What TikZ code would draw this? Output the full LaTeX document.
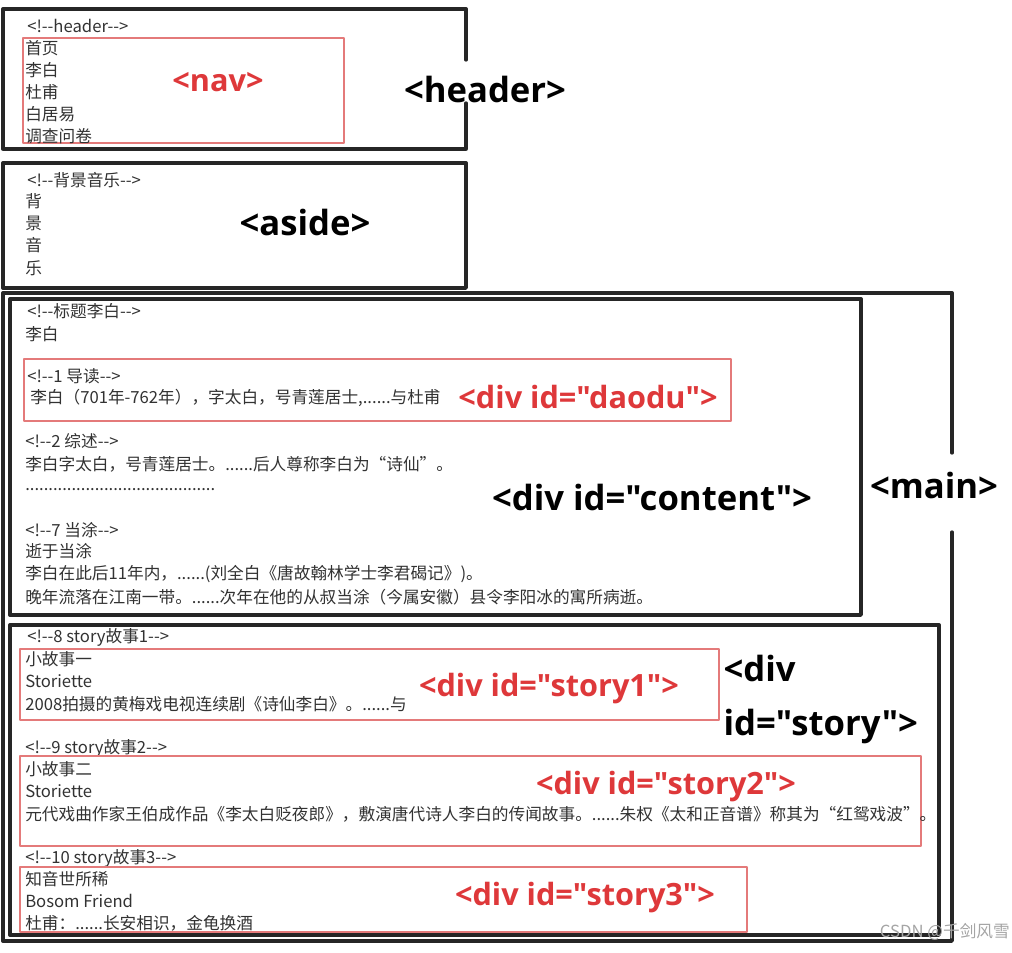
\documentclass[tikz,border=0pt]{standalone}
\usepackage{fontspec}
\setmainfont{Noto Sans CJK SC}
\newfontfamily\tagfont{Open Sans}
\usetikzlibrary{positioning}
\definecolor{tagred}{RGB}{222,56,58}
\definecolor{boxred}{RGB}{228,122,122}
\definecolor{txtgray}{RGB}{50,50,50}
\definecolor{markgray}{RGB}{165,165,165}

\begin{document}
\begin{tikzpicture}[x=0.75pt, y=-0.75pt, line join=round, line cap=round,
    blk/.style={draw=black!85, line width=2.5pt},
    redbox/.style={draw=boxred, line width=0.8pt},
    txt/.style={anchor=west, inner sep=0pt, text=txtgray, font=\fontsize{12.5}{15}\selectfont},
    tag/.style={font=\tagfont\bfseries\fontsize{26}{30}\selectfont, inner sep=1pt},
    redtag/.style={font=\tagfont\bfseries\fontsize{23}{27}\selectfont, text=tagred, inner sep=1pt}]
    \useasboundingbox (0,0) rectangle (1012,952);

    \draw[blk] (466,60) -- (466,9) -- (3,9) -- (3,149) -- (466,149) -- (466,103);
    \draw[redbox] (23,38) rectangle (344,143);
    \node[txt] (hdrnote) at (27,26) {<!-{}-header-{}->};
    \node[txt] (navhome) at (25,48) {首页};
    \node[txt] (navli) at (25,70) {李白};
    \node[txt] (navdu) at (25,92) {杜甫};
    \node[txt] (navbai) at (25,114) {白居易};
    \node[txt] (navsurvey) at (25,136) {调查问卷};
    \node[redtag] (navtag) at (218,82) {<nav>};
    \node[tag] (headertag) at (485,90) {<header>};

    \draw[blk] (3,163) rectangle (466,288);
    \node[txt] (asidenote) at (27,180) {<!-{}-背景音乐-{}->};
    \node[txt] (bgone) at (25,201) {背};
    \node[txt] (bgtwo) at (25,223) {景};
    \node[txt] (bgthree) at (25,245) {音};
    \node[txt] (bgfour) at (25,268) {乐};
    \node[tag] (asidetag) at (305,222) {<aside>};

    \draw[blk] (952,453) -- (952,293) -- (3,293) -- (3,941) -- (952,941) -- (952,532);
    \node[tag] (maintag) at (934,485) {<main>};

    \draw[blk] (10,299) rectangle (861,615);
    \node[txt] (titlenote) at (27,311) {<!-{}-标题李白-{}->};
    \node[txt] (titlename) at (25,334) {李白};
    \draw[redbox] (24,359) rectangle (731,421);
    \node[txt] (daodunote) at (27,376) {<!-{}-1 导读-{}->};
    \node[txt] (daodutext) at (30,398) {李白（701年-762年），字太白，号青莲居士,......与杜甫};
    \node[redtag] (daodutag) at (588,397) {<div id="daodu">};
    \node[txt] (zongshunote) at (25,441) {<!-{}-2 综述-{}->};
    \node[txt] (zongshutext) at (25,464) {李白字太白，号青莲居士。......后人尊称李白为“诗仙”。};
    \node[txt] (dotsline) at (25,490) {.........................................};
    \node[txt] (dangtunote) at (25,530) {<!-{}-7 当涂-{}->};
    \node[txt] (dangtutitle) at (25,551) {逝于当涂};
    \node[txt] (dangtuone) at (25,574) {李白在此后11年内，......(刘全白《唐故翰林学士李君碣记》)。};
    \node[txt] (dangtutwo) at (25,597) {晚年流落在江南一带。......次年在他的从叔当涂（今属安徽）县令李阳冰的寓所病逝。};
    \node[tag] (contenttag) at (652,497) {<div id="content">};

    \draw[blk] (10,625) rectangle (939,935);
    \node[txt] (sonenote) at (27,637) {<!-{}-8 story故事1-{}->};
    \draw[redbox] (20,649) rectangle (719,720);
    \node[txt] (sonetitle) at (25,659) {小故事一};
    \node[txt] (sonesub) at (25,681) {Storiette};
    \node[txt] (sonetext) at (25,704) {2008拍摄的黄梅戏电视连续剧《诗仙李白》。......与};
    \node[redtag] (sonetag) at (549,689) {<div id="story1">};
    \node[tag, anchor=west] (storytaga) at (722,668) {<div};
    \node[tag, anchor=west] (storytagb) at (722,726) {id="story">};

    \node[txt] (stwonote) at (25,748) {<!-{}-9 story故事2-{}->};
    \draw[redbox] (20,756) rectangle (921,846);
    \node[txt] (stwotitle) at (25,769) {小故事二};
    \node[txt] (stwosub) at (25,791) {Storiette};
    \node[txt] (stwotext) at (25,814) {元代戏曲作家王伯成作品《李太白贬夜郎》，敷演唐代诗人李白的传闻故事。......朱权《太和正音谱》称其为“红鸳戏波”。};
    \node[redtag] (stwotag) at (666,787) {<div id="story2">};

    \node[txt] (sthreenote) at (25,858) {<!-{}-10 story故事3-{}->};
    \draw[redbox] (20,867) rectangle (747,932);
    \node[txt] (sthreetitle) at (25,879) {知音世所稀};
    \node[txt] (sthreesub) at (25,901) {Bosom Friend};
    \node[txt] (sthreetext) at (25,923) {杜甫：......长安相识，金龟换酒};
    \node[redtag] (sthreetag) at (585,898) {<div id="story3">};

    \node[txt, anchor=east, text=markgray] (mark) at (1010,932) {CSDN @千剑风雪};
\end{tikzpicture}
\end{document}
